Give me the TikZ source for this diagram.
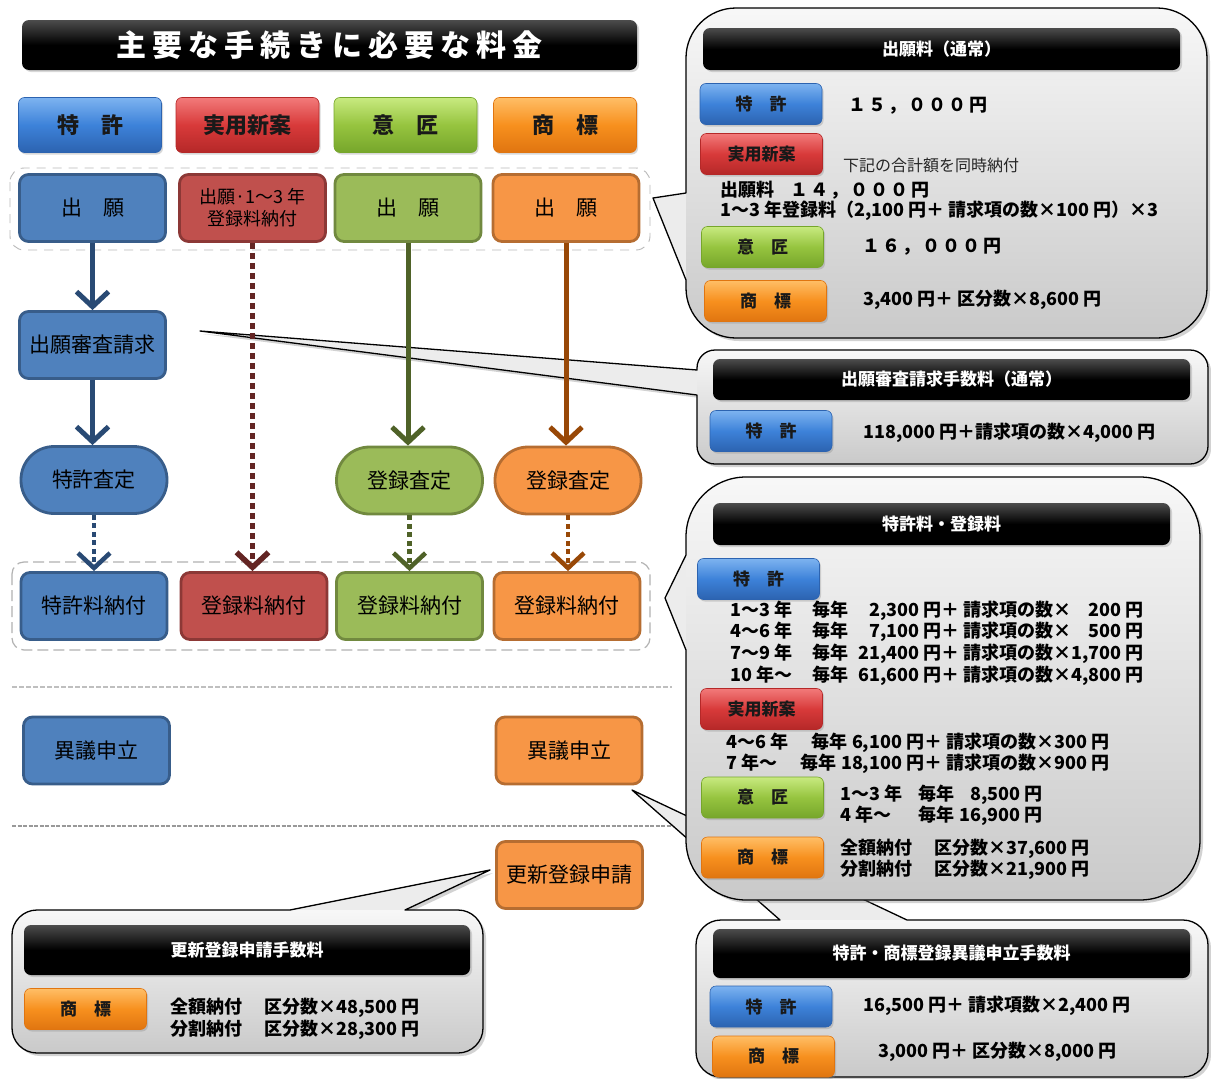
\documentclass[tikz,border=0pt]{standalone}
\usepackage{fontspec}
\setmainfont{Noto Sans CJK JP}
\usetikzlibrary{arrows.meta,shadows}

% flat flow-chart colours
\definecolor{fBlue}{HTML}{4F81BD}   \definecolor{fBlueD}{HTML}{385D8A}
\definecolor{fRed}{HTML}{C0504D}    \definecolor{fRedD}{HTML}{8C3836}
\definecolor{fGreen}{HTML}{9BBB59}  \definecolor{fGreenD}{HTML}{71893F}
\definecolor{fOrange}{HTML}{F79646} \definecolor{fOrangeD}{HTML}{B66D31}
% arrow colours
\definecolor{aBlue}{HTML}{294A74}   \definecolor{aRed}{HTML}{632523}
\definecolor{aGreen}{HTML}{4F6228}  \definecolor{aOrange}{HTML}{984807}
% glossy button colours
\definecolor{gBlueT}{HTML}{7DB3F0}  \definecolor{gBlueM}{HTML}{3D82D9}  \definecolor{gBlueB}{HTML}{2C63B0}
\definecolor{gRedT}{HTML}{F27A7A}   \definecolor{gRedM}{HTML}{D83A3A}   \definecolor{gRedB}{HTML}{B52828}
\definecolor{gGreenT}{HTML}{C8EA80} \definecolor{gGreenM}{HTML}{96C43F} \definecolor{gGreenB}{HTML}{76A62B}
\definecolor{gOrangeT}{HTML}{FFBE66}\definecolor{gOrangeM}{HTML}{F7901E}\definecolor{gOrangeB}{HTML}{E07510}

% type sizes
\newcommand\ffl{\fontsize{21pt}{25pt}\selectfont}
\newcommand\fflsm{\fontsize{18pt}{22pt}\selectfont}
\newcommand\fhb{\fontsize{22pt}{26pt}\selectfont\bfseries}
\newcommand\fsb{\fontsize{17pt}{20pt}\selectfont\bfseries}
\newcommand\fhd{\fontsize{17pt}{20pt}\selectfont\bfseries}
\newcommand\fbd{\fontsize{18pt}{21pt}\selectfont\bfseries}
\newcommand\fnote{\fontsize{16pt}{19pt}\selectfont}
\newcommand\fttl{\fontsize{30pt}{34pt}\selectfont\bfseries\addfontfeature{LetterSpace=20}}
\newcommand\wide[1]{{\addfontfeature{LetterSpace=12}#1}}

% fee table rows
\newcommand\prow[3]{\makebox[82pt][l]{#1}毎年\makebox[71pt][r]{#2} 円＋ 請求項の数×\makebox[50pt][r]{#3} 円}
\newcommand\urow[3]{\makebox[176pt][l]{#1\hfill 毎年 #2} 円＋ 請求項の数×#3 円}
\newcommand\drow[2]{\makebox[78pt][l]{#1}毎年\makebox[66pt][r]{#2} 円}

% speech bubble: shadowed base, shaded body, outline
\newcommand\bubble[5]{%
  \path[bubble base] #1;
  \begin{scope}\clip #1;\shade[bubble shade] (#2,#3) rectangle (#4,#5);\end{scope}
  \draw[bubble line] #1;}

% bubble outlines (x right, y down)
\def\cA{(736,8) -- (1157,8) arc[start angle=-90,end angle=0,radius=50] -- (1207,288)
  arc[start angle=0,end angle=90,radius=50] -- (736,338) arc[start angle=90,end angle=180,radius=50]
  -- (686,280) -- (653,198) -- (686,193) -- (686,58) arc[start angle=180,end angle=270,radius=50] -- cycle}
\def\cB{(715,350) -- (1190,350) arc[start angle=-90,end angle=0,radius=18] -- (1208,446)
  arc[start angle=0,end angle=90,radius=18] -- (715,464) arc[start angle=90,end angle=180,radius=18]
  -- (697,395) -- (200,331) -- (697,370) -- (697,368) arc[start angle=180,end angle=270,radius=18] -- cycle}
\def\cC{(746,477) -- (1140,477) arc[start angle=-90,end angle=0,radius=60] -- (1200,840)
  arc[start angle=0,end angle=90,radius=60] -- (746,900) arc[start angle=90,end angle=180,radius=60]
  -- (686,650) -- (665,598) -- (686,555) -- (686,537) arc[start angle=180,end angle=270,radius=60] -- cycle}
\def\cD{(721,920) -- (780,920) -- (632,790) -- (907,920) -- (1183,920)
  arc[start angle=-90,end angle=0,radius=25] -- (1208,1052) arc[start angle=0,end angle=90,radius=25]
  -- (721,1077) arc[start angle=90,end angle=180,radius=25] -- (696,945)
  arc[start angle=180,end angle=270,radius=25] -- cycle}
\def\cE{(37,910) -- (290,910) -- (490,870) -- (405,910) -- (458,910)
  arc[start angle=-90,end angle=0,radius=25] -- (483,1028) arc[start angle=0,end angle=90,radius=25]
  -- (37,1053) arc[start angle=90,end angle=180,radius=25] -- (12,935)
  arc[start angle=180,end angle=270,radius=25] -- cycle}

\begin{document}
\begin{tikzpicture}[x=1pt,y=-1pt,
  flow/.style={rounded corners=9pt, line width=2.8pt, inner sep=2pt, align=center,
    font=\ffl, text=black, minimum width=146pt, minimum height=67pt},
  fb/.style={flow, fill=fBlue, draw=fBlueD},
  fr/.style={flow, fill=fRed, draw=fRedD},
  fg/.style={flow, fill=fGreen, draw=fGreenD},
  fo/.style={flow, fill=fOrange, draw=fOrangeD},
  pill/.style={rounded corners=33pt},
  gloss/.style={rounded corners=6pt, line width=0.6pt, inner sep=0pt, text=black!90,
    drop shadow={shadow xshift=1.5pt, shadow yshift=-2pt, opacity=0.3}},
  gb/.style={gloss, top color=gBlueT, bottom color=gBlueB, middle color=gBlueM, draw=gBlueB},
  gr/.style={gloss, top color=gRedT, bottom color=gRedB, middle color=gRedM, draw=gRedB},
  gg/.style={gloss, top color=gGreenT, bottom color=gGreenB, middle color=gGreenM, draw=gGreenB},
  go/.style={gloss, top color=gOrangeT, bottom color=gOrangeB, middle color=gOrangeM, draw=gOrangeB},
  big/.style={minimum width=143pt, minimum height=55pt, font=\fhb},
  small/.style={minimum width=122pt, minimum height=41pt, font=\fsb},
  bar/.style={rounded corners=7pt, top color=black!70, bottom color=black, middle color=black,
    text=white, font=\fhd, inner sep=0pt,
    drop shadow={shadow xshift=2pt, shadow yshift=-2pt, opacity=0.3}},
  body/.style={anchor=west, inner sep=0pt, font=\fbd},
  arrowline/.style={line width=5pt, -{Straight Barb[length=15pt,width=32pt]}},
  dotline/.style={arrowline, line width=4.5pt, dash pattern=on 5pt off 3.5pt},
  bubble base/.style={fill=gray!15, drop shadow={shadow xshift=3pt, shadow yshift=-3pt, opacity=0.35}},
  bubble shade/.style={top color=gray!6, bottom color=gray!42},
  bubble line/.style={draw=black, line width=1.3pt, line join=round},
]
\fill[white] (0,0) rectangle (1211,1079);
\useasboundingbox (0,0) rectangle (1211,1079);

% separators and grouping frames
\draw[gray!50, line width=1.5pt, dash pattern=on 5pt off 2pt] (12,687) -- (672,687);
\draw[gray!80, line width=2pt, dash pattern=on 4pt off 1.5pt] (12,826) -- (672,826);
\draw[gray!55, line width=0.9pt, dash pattern=on 9pt off 7pt, rounded corners=14pt] (10,168) rectangle (650,250);
\draw[gray!60, line width=1.2pt, dash pattern=on 11pt off 5pt, rounded corners=12pt] (12,562) rectangle (650,650);

% speech bubbles
\bubble\cB{697}{350}{1208}{464}
\bubble\cA{686}{8}{1207}{338}
\bubble\cE{12}{910}{483}{1053}
\bubble\cD{696}{920}{1208}{1077}
\bubble\cC{686}{477}{1200}{900}

% title
\node[bar, minimum width=615pt, minimum height=50pt, font=\fttl] (title) at (329.5,45) {主要な手続きに必要な料金};

% category buttons
\node[gb, big] (hb1) at (90,125)    {特　許};
\node[gr, big] (hb2) at (247.5,125) {実用新案};
\node[gg, big] (hb3) at (405.5,125) {意　匠};
\node[go, big] (hb4) at (565,125)   {商　標};

% flow nodes
\node[fb] (a1) at (92.5,208) {出　願};
\node[fr, font=\fflsm] (a2) at (252.5,208) {出願·1～3 年\\登録料納付};
\node[fg] (a3) at (408,208) {出　願};
\node[fo] (a4) at (566,208) {出　願};

\node[fb] (b1) at (92.5,345) {出願審査請求};

\node[fb, pill] (c1) at (94,480)  {特許査定};
\node[fg, pill] (c3) at (409.5,480.5) {登録査定};
\node[fo, pill] (c4) at (568,480.5) {登録査定};

\node[fb] (d1) at (94,606)    {特許料納付};
\node[fr] (d2) at (254,606)   {登録料納付};
\node[fg] (d3) at (409.5,606) {登録料納付};
\node[fo] (d4) at (567,606)   {登録料納付};

\node[fb] (e1) at (96.5,750.5) {異議申立};
\node[fo] (e4) at (569,750.5)  {異議申立};
\node[fo] (f4) at (569.5,875)  {更新登録申請};

% connectors
\draw[arrowline, aBlue]   (a1.south) -- (a1.south |- b1.north);
\draw[arrowline, aBlue]   (b1.south) -- (b1.south |- c1.north);
\draw[arrowline, aGreen]  (a3.south) -- (a3.south |- c3.north);
\draw[arrowline, aOrange] (a4.south) -- (a4.south |- c4.north);
\draw[dotline, aBlue]   (c1.south) -- (c1.south |- d1.north);
\draw[dotline, aGreen]  (c3.south) -- (c3.south |- d3.north);
\draw[dotline, aOrange] (c4.south) -- (c4.south |- d4.north);
\draw[dotline, aRed, line width=5.5pt, dash pattern=on 6pt off 4pt] (a2.south) -- (a2.south |- d2.north);

% application fees
\node[bar, minimum width=477pt, minimum height=42pt] (h1) at (941.5,49) {出願料（通常）};
\node[gb, small] (s1) at (761,104)   {特　許};
\node[gr, small] (s2) at (761.5,154) {実用新案};
\node[gg, small] (s3) at (762.5,247) {意　匠};
\node[go, small] (s4) at (765.5,301) {商　標};
\node[body] (t1) at (848,106) {\wide{１５，０００円}};
\node[body, font=\fnote, text=black!85] (t2) at (843,165) {下記の合計額を同時納付};
\node[body] (t3) at (720,190) {出願料\hspace{16pt}\wide{１４，０００円}};
\node[body] (t4) at (720,211) {1～3 年登録料（2,100 円＋ 請求項の数×100 円）×3};
\node[body] (t5) at (862,247) {\wide{１６，０００円}};
\node[body] (t6) at (863,300) {3,400 円＋ 区分数×8,600 円};

% examination request fee
\node[bar, minimum width=477pt, minimum height=41pt] (h2) at (951.5,379.5) {出願審査請求手数料（通常）};
\node[gb, small] (s5) at (771,431) {特　許};
\node[body] (t7) at (863,433) {118,000 円＋請求項の数×4,000 円};

% patent and registration fees
\node[bar, minimum width=457pt, minimum height=42pt] (h3) at (941.5,524) {特許料・登録料};
\node[gb, small] (s6) at (758.5,579)  {特　許};
\node[body] (p1) at (730,611) {\prow{1～3 年}{2,300}{200}};
\node[body] (p2) at (730,632) {\prow{4～6 年}{7,100}{500}};
\node[body] (p3) at (730,654) {\prow{7～9 年}{21,400}{1,700}};
\node[body] (p4) at (730,676) {\prow{10 年～}{61,600}{4,800}};
\node[gr, small] (s7) at (761.5,709)  {実用新案};
\node[body] (u1) at (726,743) {\urow{4～6 年}{6,100}{300}};
\node[body] (u2) at (726,764) {\urow{7 年～}{18,100}{900}};
\node[gg, small] (s8) at (762.5,797.5) {意　匠};
\node[body] (g1) at (840,795) {\drow{1～3 年}{8,500}};
\node[body] (g2) at (840,816) {\drow{4 年～}{16,900}};
\node[go, small] (s9) at (762.5,857.5) {商　標};
\node[body] (k1) at (840,849) {全額納付\hspace{22pt}区分数×37,600 円};
\node[body] (k2) at (840,870) {分割納付\hspace{22pt}区分数×21,900 円};

% opposition fees
\node[bar, minimum width=477pt, minimum height=49pt] (h4) at (951.5,953.5) {特許・商標登録異議申立手数料};
\node[gb, small] (s10) at (771,1006.5)   {特　許};
\node[go, small] (s11) at (773.5,1056.5) {商　標};
\node[body] (o1) at (863,1006) {16,500 円＋ 請求項数×2,400 円};
\node[body] (o2) at (878,1052) {3,000 円＋ 区分数×8,000 円};

% renewal fees
\node[bar, minimum width=446pt, minimum height=50pt] (h5) at (247,950) {更新登録申請手数料};
\node[go, small] (s12) at (85.5,1009) {商　標};
\node[body] (r1) at (170,1008) {全額納付\hspace{22pt}区分数×48,500 円};
\node[body] (r2) at (170,1030) {分割納付\hspace{22pt}区分数×28,300 円};
\end{tikzpicture}
\end{document}
